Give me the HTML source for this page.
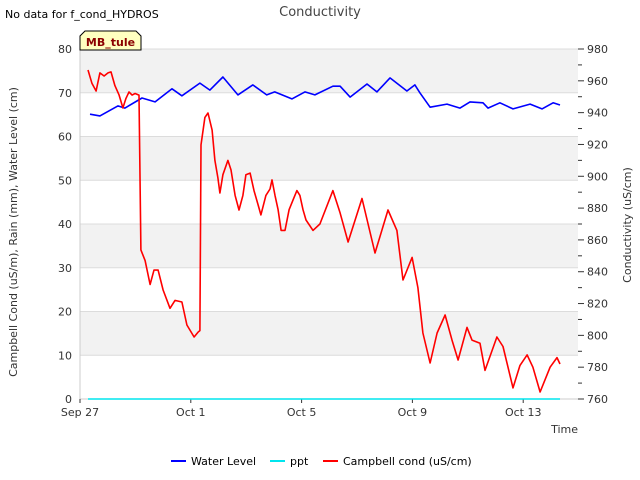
<!DOCTYPE html>
<html><head><meta charset="utf-8"><style>
body{margin:0;background:#fff;font-family:"Liberation Sans","DejaVu Sans",sans-serif}
svg{display:block}
text{font-family:"DejaVu Sans","Liberation Sans",sans-serif}
</style></head><body>
<svg id="chart" width="640" height="480" viewBox="0 0 640 480" xmlns="http://www.w3.org/2000/svg">
<g id="bands"></g>
<g id="axes"></g>
<g id="series"></g>
<text x="5" y="18" font-size="11">No data for f_cond_HYDROS</text>
<text x="320" y="16" font-size="13" fill="#444" text-anchor="middle">Conductivity</text>
<g>
<path d="M80,50 L80,36 L85,31 L136,31 L141,36 L141,50 Z" fill="#ffffc0" stroke="#000" stroke-width="1"/>
<text x="110.5" y="46" font-size="11" font-weight="bold" fill="#8b0000" text-anchor="middle">MB_tule</text>
</g>
<text transform="translate(17,232) rotate(-90)" font-size="11" fill="#333" text-anchor="middle">Campbell Cond (uS/m), Rain (mm), Water Level (cm)</text>
<text transform="translate(631,225) rotate(-90)" font-size="11" fill="#333" text-anchor="middle">Conductivity (uS/cm)</text>
<text x="578" y="433" font-size="11" fill="#333" text-anchor="end">Time</text>
<g>
<g><line x1="171" y1="461" x2="186" y2="461" stroke="#0000ff" stroke-width="2"/><text x="191" y="465" font-size="11">Water Level</text></g>
<g><line x1="270" y1="461" x2="285" y2="461" stroke="#00e5ee" stroke-width="2"/><text x="290" y="465" font-size="11">ppt</text></g>
<g><line x1="323" y1="461" x2="338" y2="461" stroke="#ff0000" stroke-width="2"/><text x="343" y="465" font-size="11">Campbell cond (uS/cm)</text></g>
</g>
</svg>
<script>
const xTickLabels=["Sep 27","Oct 1","Oct 5","Oct 9","Oct 13"];
const xTickDays=[0,4,8,12,16];
const leftTicks=[0,10,20,30,40,50,60,70,80];
const rightTicks=[760,780,800,820,840,860,880,900,920,940,960,980];
// water level (left axis): day offsets from Sep 27, values cm
const wlDays=[0.36,0.72,1.37,1.62,2.24,2.71,3.32,3.68,4.33,4.69,5.16,5.70,6.24,6.74,7.03,7.65,8.12,8.48,9.13,9.39,9.75,10.36,10.72,11.19,11.80,12.09,12.27,12.64,13.25,13.72,14.08,14.55,14.73,15.16,15.63,16.25,16.68,17.08,17.33];
const wlVals=[65.1,64.7,67.0,66.5,68.8,67.9,70.9,69.3,72.2,70.6,73.6,69.5,71.8,69.5,70.2,68.6,70.2,69.5,71.5,71.5,69.0,72.0,70.2,73.4,70.4,71.8,70.0,66.7,67.4,66.5,67.9,67.7,66.5,67.7,66.3,67.4,66.3,67.7,67.2];
// conductivity (right axis): uS/cm
const cDays=[0.29,0.43,0.58,0.72,0.87,1.01,1.12,1.26,1.41,1.55,1.66,1.77,1.88,1.99,2.13,2.20,2.35,2.53,2.67,2.82,3.00,3.25,3.43,3.68,3.86,4.12,4.26,4.33,4.37,4.51,4.62,4.77,4.87,4.98,5.05,5.16,5.34,5.45,5.60,5.74,5.88,5.99,6.14,6.28,6.43,6.53,6.71,6.86,6.93,7.04,7.15,7.26,7.40,7.55,7.69,7.83,7.94,8.05,8.16,8.41,8.66,9.13,9.39,9.68,10.18,10.65,11.12,11.44,11.66,11.99,12.20,12.38,12.64,12.89,13.18,13.43,13.65,13.97,14.15,14.44,14.62,15.05,15.27,15.45,15.63,15.88,16.14,16.35,16.61,16.97,17.22,17.33];
const cVals=[966.8,958.5,953.6,965.0,963.0,965.0,965.6,957.0,951.0,943.0,949.0,953.0,951.0,952.0,951.0,853.7,847.0,832.0,841.0,841.0,828.5,817.0,822.0,821.0,806.5,799.0,802.0,803.0,919.7,937.0,939.8,929.0,910.0,899.0,889.5,901.0,910.0,904.0,888.0,878.8,888.0,901.0,902.0,891.0,882.0,875.7,888.0,892.0,897.7,888.0,879.0,866.0,866.0,879.0,885.0,891.0,888.0,879.0,872.5,866.0,870.0,891.0,877.0,858.7,886.0,851.8,878.8,866.0,834.8,849.0,830.0,801.5,782.6,801.5,812.8,797.0,784.5,805.0,797.0,795.0,778.0,799.0,793.0,780.0,767.0,781.0,787.7,780.0,764.4,780.0,786.0,782.0];
// ppt
const pptDays=[0.29,17.33];
const pptVals=[0,0];
const X0=80,X1=578,Y0=49,Y1=399,PXD=27.7;
const xs=d=>X0+d*PXD;
const yl=v=>Y1-(v/80)*(Y1-Y0);
const yr=v=>Y1-((v-760)/220)*(Y1-Y0);
const NS="http://www.w3.org/2000/svg";
function mk(tag,attrs,parent){const e=document.createElementNS(NS,tag);for(const k in attrs)e.setAttribute(k,attrs[k]);parent.appendChild(e);return e;}
const bands=document.getElementById('bands'),axes=document.getElementById('axes'),series=document.getElementById('series');
const bg=mk('rect',{x:X0,y:Y0,width:X1-X0,height:Y1-Y0,fill:'#fff'},bands);


for(let i=0;i<8;i+=2){const b=mk('rect',{x:X0,y:yl(leftTicks[i+1]+10),width:X1-X0,height:yl(0)-yl(10),fill:'#f2f2f2'},bands);

}
leftTicks.forEach(v=>{const g=mk('line',{x1:X0,x2:X1,y1:yl(v),y2:yl(v),stroke:'#dcdcdc','stroke-width':1},bands);


const t=mk('text',{x:X0-8,y:yl(v)+4,'font-size':11,fill:'#333','text-anchor':'end'},axes);t.textContent=v;

});
mk('line',{x1:X0,x2:X0,y1:Y0,y2:Y1,stroke:'#ccc'},axes);
mk('line',{x1:X0,x2:X1,y1:Y1,y2:Y1,stroke:'#ccc'},axes);
for(let v=760;v<=980;v+=10){mk('line',{x1:X1,x2:X1+(v%20===0?6:4),y1:yr(v),y2:yr(v),stroke:'#333'},axes);}
rightTicks.forEach(v=>{const t=mk('text',{x:X1+9,y:yr(v)+4,'font-size':11,fill:'#333'},axes);t.textContent=v;

});
xTickDays.forEach((d,i)=>{mk('line',{x1:xs(d),x2:xs(d),y1:Y1,y2:Y1+4,stroke:'#333'},axes);
const t=mk('text',{x:xs(d),y:Y1+17,'font-size':11,fill:'#333','text-anchor':'middle'},axes);t.textContent=xTickLabels[i];

});
function line(days,vals,yf,color,name){const n=Math.min(days.length,vals.length);let d='';for(let i=0;i<n;i++){d+=(i?'L':'M')+xs(days[i]).toFixed(1)+','+yf(vals[i]).toFixed(1);}
const p=mk('path',{d:d,fill:'none',stroke:color,'stroke-width':1.6,'stroke-linejoin':'round'},series);

}
line(pptDays,pptVals,yl,'#00e5ee','ppt-line');
line(wlDays,wlVals,yl,'#0000ff','water-level-line');
line(cDays,cVals,yr,'#ff0000','campbell-cond-line');
</script>
</body></html>
